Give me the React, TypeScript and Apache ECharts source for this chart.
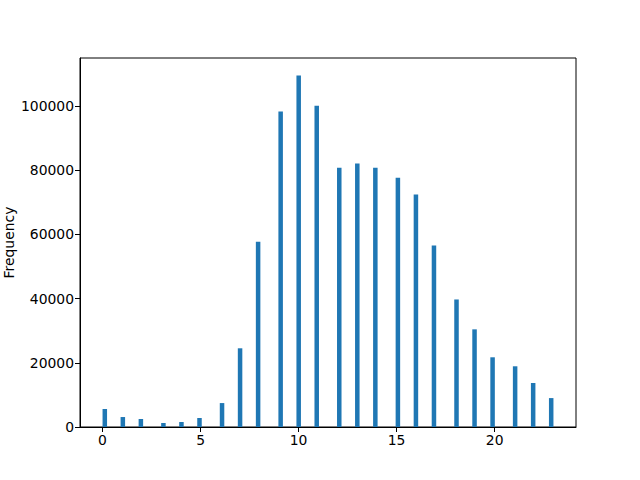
import React, { useEffect, useRef } from "react";
import * as echarts from "echarts";

const categories: number[] = [0, 1, 2, 3, 4, 5, 6, 7, 8, 9, 10, 11, 12, 13, 14, 15, 16, 17, 18, 19, 20, 21, 22, 23];
const counts: number[] = [5600, 3100, 2500, 1250, 1550, 2800, 7450, 24500, 57700, 98200, 109400, 100000, 80700, 82000, 80700, 77600, 72400, 56500, 39700, 30400, 21700, 18900, 13700, 9000];
const xTicks: number[] = [0, 5, 10, 15, 20];
const yTicks: number[] = [0, 20000, 40000, 60000, 80000, 100000];
const numBins = 100;

export default function App() {
  const ref = useRef<HTMLDivElement>(null);
  useEffect(() => {
    if (!ref.current) return;
    const chart = echarts.init(ref.current, undefined, { renderer: "svg" });
    const lo = Math.min(...categories);
    const hi = Math.max(...categories);
    const bw = (hi - lo) / numBins;
    const data = categories.map((c, k) => {
      let i = Math.floor((c - lo) / bw + 1e-9);
      if (i >= numBins) i = numBins - 1;
      const left = lo + i * bw;
      return [left, left + bw, counts[k]];
    });
    const xPad = (hi - lo) * 0.05;
    const yMax = Math.max(...counts) * 1.05;
    const font = "DejaVu Sans";
    chart.setOption({
      animation: false,
      grid: { left: 80, right: 64, top: 58, bottom: 53, containLabel: false, outerBoundsMode: "none", show: true, borderColor: "#000", borderWidth: 1, backgroundColor: "transparent" },
      xAxis: {
        type: "value",
        min: lo - xPad,
        max: hi + xPad,
        splitLine: { show: false },
        axisLine: { show: true, onZero: false, lineStyle: { color: "#000", width: 1 } },
        axisTick: { show: true, inside: false, length: 5, customValues: xTicks, lineStyle: { color: "#000" } },
        axisLabel: { customValues: xTicks, color: "#000", fontFamily: font, fontSize: 13.9, margin: 6, formatter: (v: number) => String(v) },
      },
      yAxis: {
        type: "value",
        min: 0,
        max: yMax,
        name: "Frequency",
        nameLocation: "middle",
        nameGap: 64,
        nameMoveOverlap: false,
        nameTextStyle: { color: "#000", fontFamily: font, fontSize: 13.9 },
        splitLine: { show: false },
        axisLine: { show: true, onZero: false, lineStyle: { color: "#000", width: 1 } },
        axisTick: { show: true, inside: false, length: 5, customValues: yTicks, lineStyle: { color: "#000" } },
        axisLabel: { customValues: yTicks, color: "#000", fontFamily: font, fontSize: 13.9, margin: 6, formatter: (v: number) => String(v) },
      },
      series: [
        {
          type: "custom",
          data,
          encode: { x: [0, 1], y: 2 },
          renderItem: (params: any, api: any) => {
            const p1 = api.coord([api.value(0), api.value(2)]);
            const p2 = api.coord([api.value(1), 0]);
            return {
              type: "rect",
              shape: { x: p1[0], y: p1[1], width: p2[0] - p1[0], height: p2[1] - p1[1] },
              style: { fill: "#1f77b4" },
            };
          },
        },
      ],
    });
    return () => chart.dispose();
  }, []);
  return <div ref={ref} style={{ width: 640, height: 480, position: "absolute", left: 0, top: 0 }} />;
}
